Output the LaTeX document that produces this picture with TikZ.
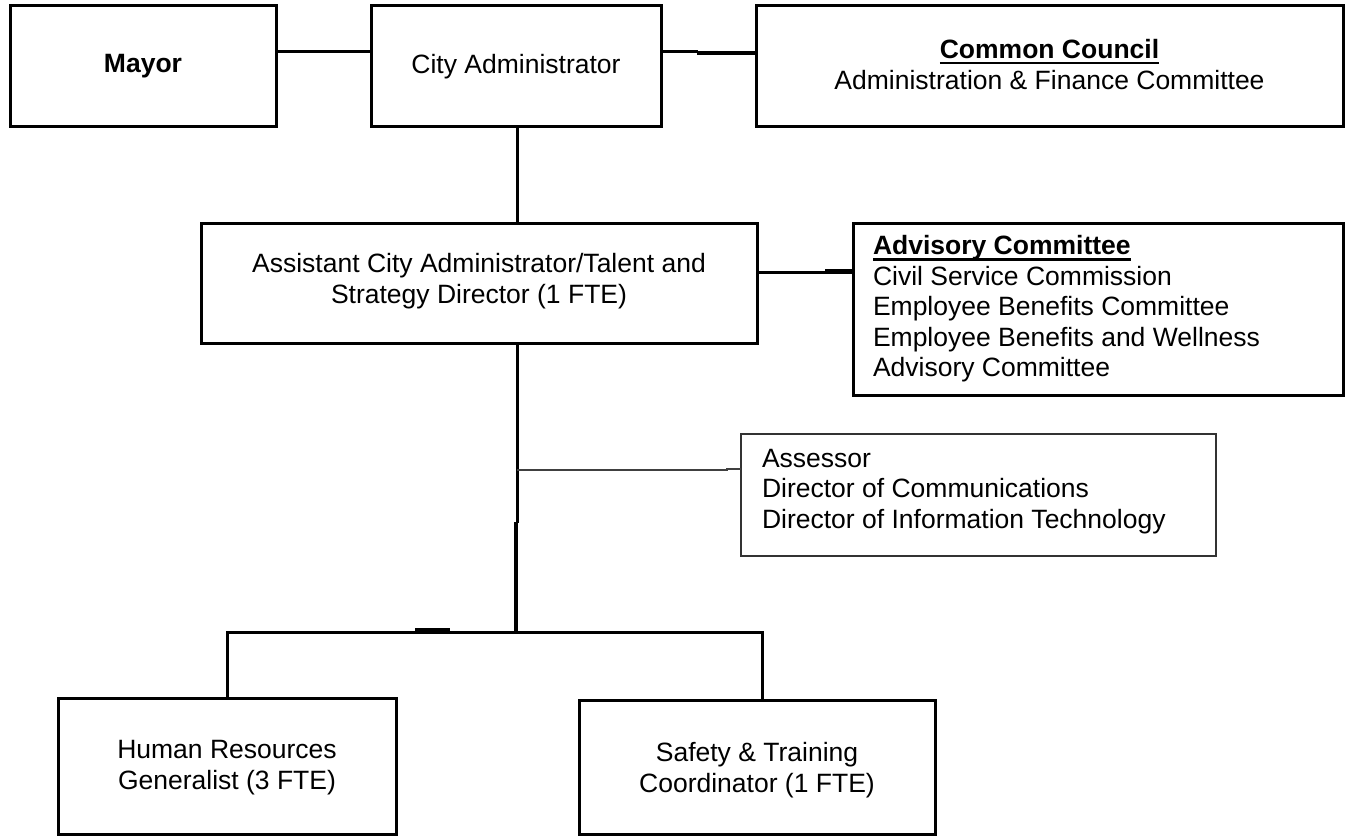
\documentclass[tikz,border=0pt]{standalone}
\usepackage{fontspec}
\setmainfont{Liberation Sans}
\newcommand\myul[1]{\setbox0\hbox{#1}\rlap{\rule[-6pt]{\wd0}{2.4pt}}\box0}
\begin{document}
\begin{tikzpicture}[x=1pt,y=-1pt,
  box/.style={draw=black,line width=3pt,rectangle,inner sep=0pt,outer sep=0pt},
  thinbox/.style={draw=black!80,line width=1.4pt,rectangle,inner sep=0pt,outer sep=0pt},
  txt/.style={inner sep=0pt,outer sep=0pt,align=center,font=\fontsize{26.5}{31}\selectfont},
  ltxt/.style={inner sep=0pt,outer sep=0pt,align=left,anchor=west,font=\fontsize{26.5}{30.5}\selectfont},
  conn/.style={draw=black,line width=3pt},
  heavy/.style={draw=black,line width=4.2pt},
  thinconn/.style={draw=black!75,line width=1.5pt}]
\useasboundingbox (0,0) rectangle (1350,840);
% boxes
\node[box,minimum width=266pt,minimum height=121pt] (mayor) at (143,66.5) {};
\node[box,minimum width=290pt,minimum height=121pt] (cityadm) at (516,66.5) {};
\node[box,minimum width=587pt,minimum height=121pt] (council) at (1049.5,66.5) {};
\node[box,minimum width=556pt,minimum height=120pt] (assistant) at (479,283) {};
\node[box,minimum width=490pt,minimum height=172pt] (advisory) at (1098,309) {};
\node[thinbox,minimum width=475pt,minimum height=122pt] (assessor) at (978.5,495) {};
\node[box,minimum width=338pt,minimum height=136pt] (hr) at (227,766) {};
\node[box,minimum width=356pt,minimum height=134pt] (safety) at (757,767) {};
% texts
\node[txt] (mayort) at (mayor.center) {\textbf{Mayor}};
\node[txt] (cityadmt) at (cityadm.center) {City Administrator};
\node[txt] (councilt) at ([yshift=2pt]council.center) {\myul{\textbf{Common Council}}\\Administration \& Finance Committee};
\node[txt] (assistantt) at ([yshift=2pt]assistant.center) {Assistant City Administrator/Talent and\\Strategy Director (1 FTE)};
\node[ltxt] (advisoryt) at ([xshift=20pt]advisory.west) {\myul{\textbf{Advisory Committee}}\\Civil Service Commission\\Employee Benefits Committee\\Employee Benefits and Wellness\\Advisory Committee};
\node[ltxt] (assessort) at ([xshift=21pt,yshift=3.5pt]assessor.west) {Assessor\\Director of Communications\\Director of Information Technology};
\node[txt] (hrt) at ([yshift=-2pt]hr.center) {Human Resources\\Generalist (3 FTE)};
\node[txt] (safetyt) at ([yshift=-3pt]safety.center) {Safety \& Training\\Coordinator (1 FTE)};
% connectors
\coordinate (j) at (517,632);
\draw[conn] ([yshift=14.5pt]mayor.east) -- ([yshift=14.5pt]cityadm.west);
\draw[conn] ([yshift=14.5pt]cityadm.east) -- ([yshift=14.5pt,xshift=-58pt]council.west);
\draw[heavy] ([yshift=13.5pt,xshift=-59pt]council.west) -- ([yshift=13.5pt]council.west);
\draw[conn] ([xshift=1pt]cityadm.south) -- ([xshift=1pt]cityadm.south |- assistant.north);
\draw[conn] ([yshift=11pt]assistant.east) -- ([yshift=37pt,xshift=-27pt]advisory.west);
\draw[heavy] ([yshift=37.5pt,xshift=-28pt]advisory.west) -- ([yshift=37.5pt]advisory.west);
\draw[conn] (j |- assistant.south) -- (517,523);
\draw[line width=3.6pt] (516,522) -- ([xshift=-1pt]j);
\draw[thinconn] (517,470) -- (727,470) -- (727,469) -- (assessor.west |- 0,469);
\draw[conn] (hr.north) -- (hr.north |- j) -- ([xshift=5pt]safety.north |- j) -- ([xshift=5pt]safety.north);
\draw[heavy] (415,630.5) -- (450,630.5);
\end{tikzpicture}
\end{document}
